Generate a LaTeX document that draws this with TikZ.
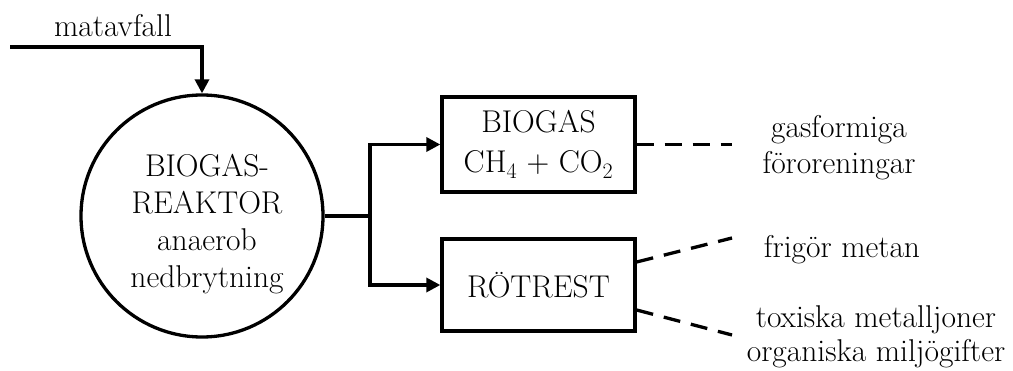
\documentclass[tikz,border=0pt]{standalone}
\usetikzlibrary{arrows.meta,calc}
\begin{document}
\begin{tikzpicture}[x=1pt,y=1pt,
  every node/.style={font=\fontsize{31.5}{37}\selectfont},
  line/.style={line width=3.3pt},
  flow/.style={line, -{Triangle[length=14pt,width=14pt]}},
  dashline/.style={line, dash pattern=on 17pt off 11pt},
  box/.style={draw, line width=3.3pt, rectangle, minimum width=193pt, inner sep=0pt, align=center},
  lbl/.style={align=center, inner sep=0pt}]
\useasboundingbox (0,0) rectangle (1013,370);
% reactor
\node[draw, circle, line width=3.3pt, minimum size=242pt, inner sep=0pt] (reactor) at (202,154) {};
\node[lbl] (reactortext) at (207,146) {BIOGAS-\\REAKTOR\\anaerob\\nedbrytning};
% input
\coordinate (in) at (10,323);
\node[lbl, anchor=base] (matavfall) at (113,333) {matavfall};
\draw[flow] (in) -| (reactor.north);
% boxes
\node[box, minimum height=95pt] (bio) at (538.5,225.5) {BIOGAS\\[3pt]CH\textsubscript{4} + CO\textsubscript{2}};
\node[box, minimum height=92pt] (rot) at (538.5,85) {RÖTREST};
% junction
\coordinate (j) at (370,154);
\draw[line] (reactor.east) -- (j);
\draw[flow] (j) |- (bio.west);
\draw[flow] (j) |- (rot.west);
% dashed
\coordinate (g1) at (732,225.5);
\coordinate (r1) at (732,132);
\coordinate (r2) at (732,35);
\draw[dashline] (bio.east) -- (g1);
\draw[dashline] ($(rot.east)+(0,23)$) -- (r1);
\draw[dashline] ($(rot.east)+(0,-25)$) -- (r2);
% labels
\node[lbl, font=\fontsize{31.5}{36}\selectfont] (gas) at (839,222) {gasformiga\\föroreningar};
\node[lbl, anchor=base] (metan) at (842,112) {frigör metan};
\node[lbl, font=\fontsize{31.5}{33.5}\selectfont] (tox) at (876,33) {toxiska metalljoner\\organiska miljögifter};
\end{tikzpicture}
\end{document}
